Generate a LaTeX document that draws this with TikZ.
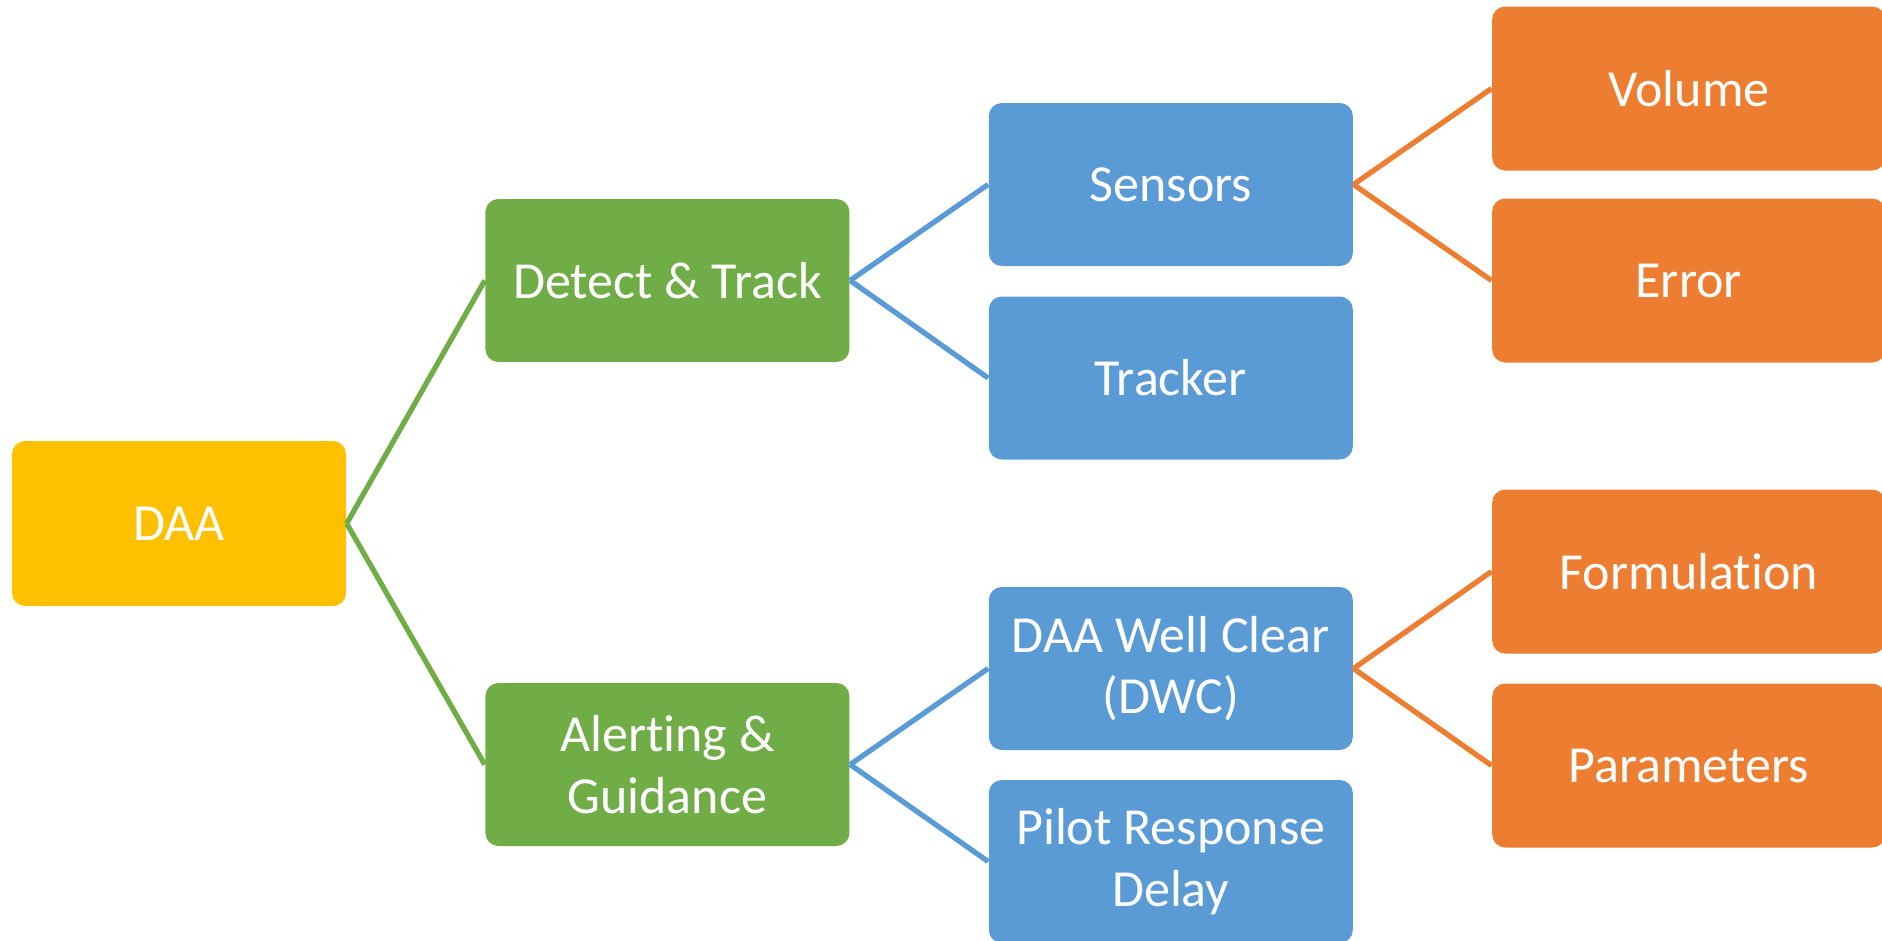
\documentclass[tikz,border=0pt]{standalone}
\usepackage{fontspec}
\setmainfont{Carlito}[RawFeature={-liga;-clig;-calt;-dlig}]
\usetikzlibrary{positioning}

\definecolor{daayellow}{HTML}{FFC000}
\definecolor{daagreen}{HTML}{70AD47}
\definecolor{daablue}{HTML}{5B9BD5}
\definecolor{daaorange}{HTML}{ED7D31}

\begin{document}
\begin{tikzpicture}[node distance=1.38cm,
  box/.style={rectangle, rounded corners=0.13cm, text=white, align=center,
              minimum width=3.64cm, minimum height=1.63cm,
              font=\fontsize{14.8}{17.5}\selectfont},
  rootbox/.style={box, fill=daayellow, minimum width=3.34cm, minimum height=1.65cm},
  greenbox/.style={box, fill=daagreen},
  bluebox/.style={box, fill=daablue},
  orangebox/.style={box, fill=daaorange, minimum width=3.93cm, minimum height=1.64cm},
  branch/.style={line width=1.5pt}]
  \useasboundingbox (0,0) rectangle (18.82,9.40);

  % Root
  \node (daa) [rootbox] at (1.79,4.165) {DAA};

  % Second level
  \node (detect) [greenbox, right=of daa, yshift=2.43cm] {Detect \& Track};
  \node (alert)  [greenbox, right=of daa, yshift=-2.41cm] {Alert\kern0pt ing \&\\Guidance};

  % Third level
  \node (sensors) [bluebox, right=of detect, yshift=0.96cm]  {Sensors};
  \node (tracker) [bluebox, right=of detect, yshift=-0.975cm] {Tracker};
  \node (dwc)     [bluebox, right=of alert, yshift=0.96cm]   {DAA Well Clear\\(DWC)};
  \node (pilot)   [bluebox, right=of alert, yshift=-0.97cm]  {Pilot Response\\Delay};

  % Fourth level
  \node (volume) [orangebox, right=of sensors, yshift=0.96cm]  {Volume};
  \node (error)  [orangebox, right=of sensors, yshift=-0.96cm] {Error};
  \node (formul) [orangebox, right=of dwc, yshift=0.97cm]      {Formulat\kern0pt ion};
  \node (params) [orangebox, right=of dwc, yshift=-0.97cm]     {Parameters};

  % Branches
  \draw[branch, daagreen] (daa.east) -- (detect.west);
  \draw[branch, daagreen] (daa.east) -- (alert.west);
  \draw[branch, daablue] (detect.east) -- (sensors.west);
  \draw[branch, daablue] (detect.east) -- (tracker.west);
  \draw[branch, daablue] (alert.east) -- (dwc.west);
  \draw[branch, daablue] (alert.east) -- (pilot.west);
  \draw[branch, daaorange] (sensors.east) -- (volume.west);
  \draw[branch, daaorange] (sensors.east) -- (error.west);
  \draw[branch, daaorange] (dwc.east) -- (formul.west);
  \draw[branch, daaorange] (dwc.east) -- (params.west);
\end{tikzpicture}
\end{document}
